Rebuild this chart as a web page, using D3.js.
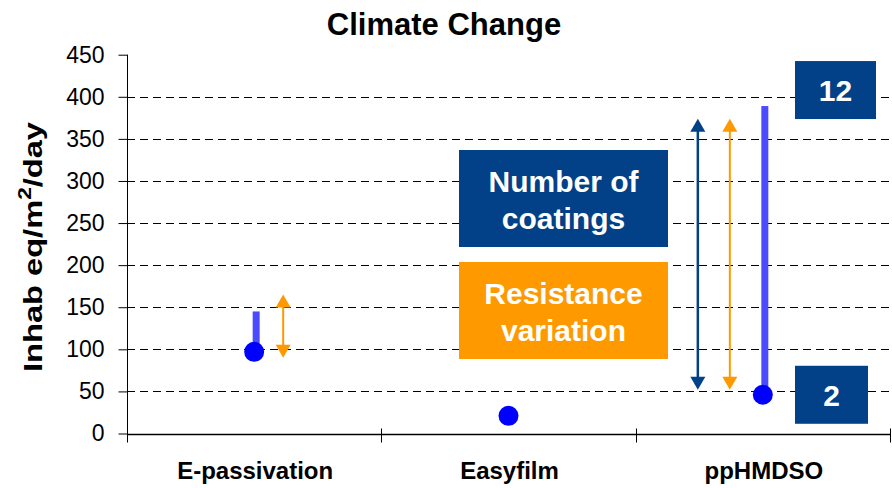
<!DOCTYPE html>
<html>
<head>
<meta charset="utf-8">
<script src="https://cdn.jsdelivr.net/npm/d3@7"></script>
<style>
  body { margin: 0; background: #fff; }
  text { font-family: "Liberation Sans", Arial, sans-serif; }
</style>
</head>
<body>
<div id="main"></div>
<script>
var cfg = { width: 892, height: 488, left: 127, right: 890, top: 54.7, bottom: 433.5 };

// data
var categories = ["E-passivation", "Easyfilm", "ppHMDSO"];
var values = [97, 21, 46];          // blue dots
var rangeTop = [145, null, 389];    // thin blue bars (dot -> top)
var resistLow = [90, null, 52];     // orange arrows
var resistHigh = [165, null, 374];
var coatLow = [null, null, 52];     // dark blue arrow
var coatHigh = [null, null, 374];
var coatLabels = [
    { cat: "ppHMDSO", value: 408, text: "12", w: 81 },
    { cat: "ppHMDSO", value: 46, text: "2", w: 73 },
];
var yTicks = [0, 50, 100, 150, 200, 250, 300, 350, 400, 450];
var gridTicks = [50, 100, 150, 200, 250, 300, 350, 400];

var navy = "#024187", orange = "#ff9900", barBlue = "#4b4bff", dotBlue = "#0000ff";

var x = d3.scaleBand().domain(categories).range([cfg.left, cfg.right]).padding(0),
    y = d3.scaleLinear().domain([0, 450]).range([cfg.bottom, cfg.top]);

function cx(c) { return x(c) + x.bandwidth() / 2; }

var svg = d3.select("#main").append("svg")
    .attr("width", cfg.width)
    .attr("height", cfg.height);

// title
svg.append("text")
    .attr("x", 444).attr("y", 35)
    .attr("text-anchor", "middle")
    .style("font-size", "31px").style("font-weight", "bold")
    .text("Climate Change");

// gridlines
svg.selectAll(".grid")
    .data(gridTicks)
    .enter().append("line")
    .attr("x1", cfg.left).attr("x2", cfg.right)
    .attr("y1", function (d) { return Math.round(y(d)) + 0.5; })
    .attr("y2", function (d) { return Math.round(y(d)) + 0.5; })
    .attr("stroke", "#000").attr("stroke-width", 1)
    .attr("stroke-dasharray", "8,5");

// y axis
var yAxis = svg.append("g")
    .attr("transform", "translate(" + (cfg.left + 0.5) + ",0)")
    .call(d3.axisLeft(y).tickValues(yTicks).tickSize(9).tickPadding(14));
yAxis.selectAll("text").style("font-size", "23px").attr("fill", "#000");
yAxis.select(".domain").attr("d", "M0," + y(450) + "V" + y(0));

// y label
var yl = svg.append("text")
    .attr("transform", "translate(42,247) rotate(-90)")
    .attr("text-anchor", "middle")
    .attr("textLength", 250).attr("lengthAdjust", "spacingAndGlyphs")
    .style("font-size", "26px").style("font-weight", "bold");
yl.append("tspan").text("Inhab eq/m");
yl.append("tspan").attr("dy", -11).style("font-size", "18px").text("2");
yl.append("tspan").attr("dy", 11).text("/day");

// x axis
var xg = svg.append("g");
xg.append("line")
    .attr("x1", cfg.left).attr("x2", cfg.right)
    .attr("y1", Math.round(y(0)) + 0.5).attr("y2", Math.round(y(0)) + 0.5)
    .attr("stroke", "#000").attr("stroke-width", 1.5);
xg.selectAll(".xtick")
    .data(categories.map(function (c) { return x(c); }).concat([cfg.right]))
    .enter().append("line")
    .attr("x1", function (d) { return Math.round(d) + 0.5; })
    .attr("x2", function (d) { return Math.round(d) + 0.5; })
    .attr("y1", y(0) - 5).attr("y2", y(0) + 9)
    .attr("stroke", "#000");
xg.selectAll(".xlab")
    .data(categories)
    .enter().append("text")
    .attr("x", function (d) { return cx(d) + 1; })
    .attr("y", 479)
    .attr("text-anchor", "middle")
    .style("font-size", "24px").style("font-weight", "bold")
    .text(function (d) { return d; });

// annotation boxes
function box(x0, y0, w, h, fill, lines, base, gap) {
    svg.append("rect").attr("x", x0).attr("y", y0).attr("width", w).attr("height", h).attr("fill", fill);
    lines.forEach(function (t, i) {
        svg.append("text")
            .attr("x", x0 + w / 2).attr("y", base + i * gap)
            .attr("text-anchor", "middle").attr("fill", "#fff")
            .style("font-size", "30px").style("font-weight", "bold")
            .text(t);
    });
}
box(459, 150, 209, 97, navy, ["Number of", "coatings"], 192, 37);
box(459, 262, 209, 97, orange, ["Resistance", "variation"], 304, 37);

// arrows
function arrow(xp, lo, hi, color, sw) {
    var y1 = y(lo), y2 = y(hi), hh = 13, hw = 7.5;
    svg.append("line")
        .attr("x1", xp).attr("x2", xp).attr("y1", y2 + hh - 1).attr("y2", y1 - hh + 1)
        .attr("stroke", color).attr("stroke-width", sw);
    svg.append("path")
        .attr("d", "M" + xp + "," + y2 + "L" + (xp - hw) + "," + (y2 + hh) + "L" + (xp + hw) + "," + (y2 + hh) + "Z")
        .attr("fill", color);
    svg.append("path")
        .attr("d", "M" + xp + "," + y1 + "L" + (xp - hw) + "," + (y1 - hh) + "L" + (xp + hw) + "," + (y1 - hh) + "Z")
        .attr("fill", color);
}
var resistOffset = [29, 0, -33];
categories.forEach(function (c, i) {
    if (resistLow[i] != null) arrow(cx(c) + resistOffset[i], resistLow[i], resistHigh[i], orange, 2);
    if (coatLow[i] != null) arrow(cx(c) - 65, coatLow[i], coatHigh[i], navy, 2.5);
});

// range bars
svg.selectAll(".range")
    .data(categories.map(function (c, i) { return { c: c, v: values[i], t: rangeTop[i] }; })
        .filter(function (d) { return d.t != null; }))
    .enter().append("rect")
    .attr("x", function (d) { return cx(d.c) + 2 - 3.5; })
    .attr("width", 7)
    .attr("y", function (d) { return y(d.t); })
    .attr("height", function (d) { return y(d.v) - y(d.t); })
    .attr("fill", barBlue);

// dots
svg.selectAll(".dot")
    .data(categories.map(function (c, i) { return { c: c, v: values[i] }; }))
    .enter().append("circle")
    .attr("cx", function (d) { return cx(d.c); })
    .attr("cy", function (d) { return y(d.v); })
    .attr("r", 10)
    .attr("fill", dotBlue);

// coating count labels
coatLabels.forEach(function (d) {
    var bx = 795, by = y(d.value) - 29;
    svg.append("rect").attr("x", bx).attr("y", by).attr("width", d.w).attr("height", 58).attr("fill", navy);
    svg.append("text")
        .attr("x", bx + d.w / 2).attr("y", y(d.value) + 11)
        .attr("text-anchor", "middle").attr("fill", "#fff")
        .style("font-size", "30px").style("font-weight", "bold")
        .text(d.text);
});
</script>
</body>
</html>
